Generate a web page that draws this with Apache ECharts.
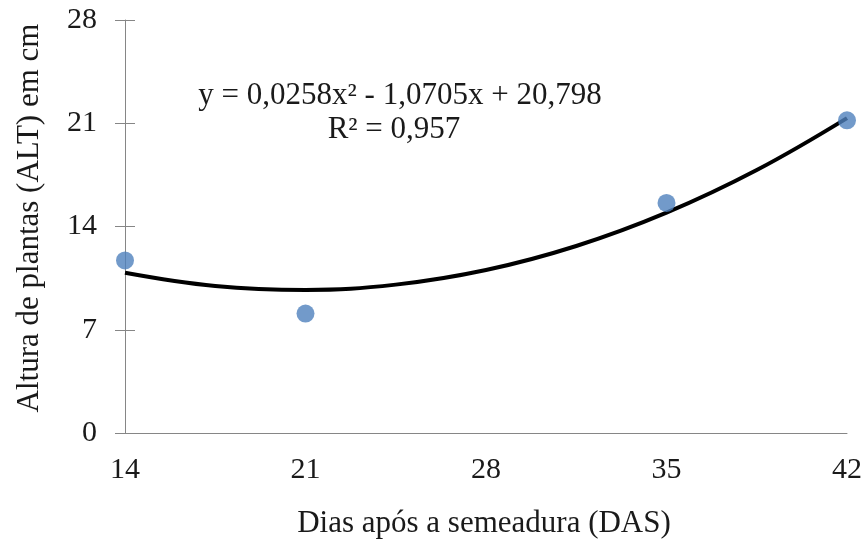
<!DOCTYPE html>
<html>
<head>
<meta charset="utf-8">
<script src="https://cdn.jsdelivr.net/npm/echarts@6/dist/echarts.min.js"></script>
<style>
  html, body { margin: 0; padding: 0; background: #fff; }
  #chart { width: 867px; height: 543px; }
</style>
</head>
<body>
<div id="chart"></div>
<script>
// Observed plant heights (cm) by days after sowing
const dias = [14, 21, 35, 42];
const altura = [11.7, 8.1, 15.6, 21.2];

// Quadratic trend line, read at 3.5-day steps
const tendDias = [14, 17.5, 21, 24.5, 28, 31.5, 35, 38.5, 42];
const tendAltura = [10.87, 9.97, 9.70, 10.06, 11.05, 12.68, 14.94, 17.83, 21.35];

// Axis ticks
const xTicks = [14, 21, 28, 35, 42];
const yTicks = [0, 7, 14, 21, 28];

const equacao = 'y = 0,0258x² - 1,0705x + 20,798';
const r2 = 'R² = 0,957';
const tituloX = 'Dias após a semeadura (DAS)';
const tituloY = 'Altura de plantas (ALT) em cm';

const fonte = '"Liberation Serif", "DejaVu Serif", serif';
const cinza = '#868686';
const texto = '#1a1a1a';

const chart = echarts.init(document.getElementById('chart'));
chart.setOption({
  backgroundColor: '#ffffff',
  animation: false,
  grid: { left: 125, right: 20, top: 20, bottom: 110 },
  xAxis: {
    type: 'value',
    min: xTicks[0],
    max: xTicks[xTicks.length - 1],
    interval: xTicks[1] - xTicks[0],
    axisLine: { lineStyle: { color: cinza, width: 1 } },
    axisTick: { show: false },
    splitLine: { show: false },
    axisLabel: { color: texto, fontFamily: fonte, fontSize: 30, margin: 22 }
  },
  yAxis: [
    {
      type: 'value',
      min: yTicks[0],
      max: yTicks[yTicks.length - 1],
      interval: yTicks[1] - yTicks[0],
      axisLine: { show: true, lineStyle: { color: cinza, width: 1 } },
      axisTick: { show: true, length: 10, lineStyle: { color: cinza } },
      splitLine: { show: false },
      axisLabel: { color: texto, fontFamily: fonte, fontSize: 30, margin: 28 }
    },
    {
      // mirrored ticks so the marks cross the axis line
      type: 'value',
      position: 'left',
      min: yTicks[0],
      max: yTicks[yTicks.length - 1],
      interval: yTicks[1] - yTicks[0],
      axisLine: { show: false },
      axisTick: { show: true, inside: true, length: 10, lineStyle: { color: cinza } },
      splitLine: { show: false },
      axisLabel: { show: false }
    }
  ],
  series: [
    {
      type: 'line',
      data: tendDias.map((d, i) => [d, tendAltura[i]]),
      smooth: 0.4,
      showSymbol: false,
      lineStyle: { color: '#000', width: 4 },
      z: 2
    },
    {
      type: 'scatter',
      data: dias.map((d, i) => [d, altura[i]]),
      symbolSize: 18,
      itemStyle: { color: '#4f81bd' },
      z: 3
    }
  ],
  graphic: [
    {
      type: 'text', x: 400, y: 96,
      style: { text: equacao, fontFamily: fonte, fontSize: 31, fill: texto,
               align: 'center', verticalAlign: 'middle' }
    },
    {
      type: 'text', x: 394, y: 130,
      style: { text: r2, fontFamily: fonte, fontSize: 31, fill: texto,
               align: 'center', verticalAlign: 'middle' }
    },
    {
      type: 'text', x: 484, y: 524,
      style: { text: tituloX, fontFamily: fonte, fontSize: 31, fill: texto,
               align: 'center', verticalAlign: 'middle' }
    },
    {
      type: 'text', x: 30, y: 218, rotation: Math.PI / 2,
      style: { text: tituloY, fontFamily: fonte, fontSize: 31, fill: texto,
               align: 'center', verticalAlign: 'middle' }
    }
  ]
});
</script>
</body>
</html>
